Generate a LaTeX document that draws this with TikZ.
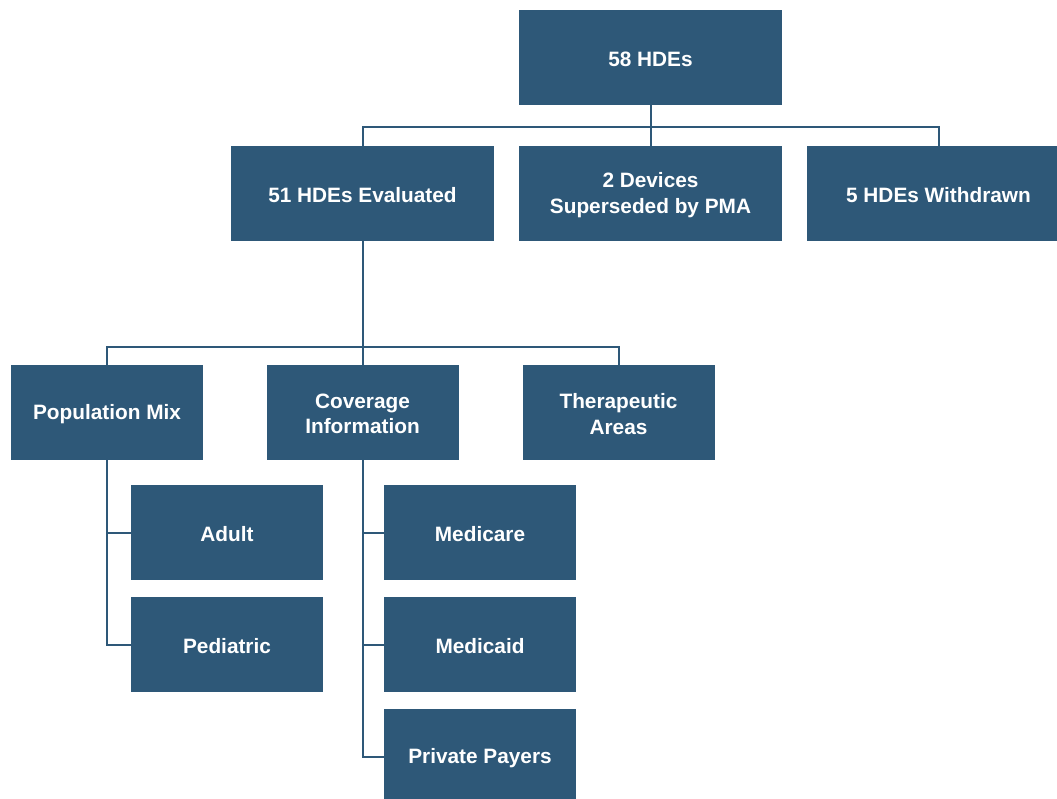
\documentclass[tikz,border=0pt]{standalone}
\usepackage{fontspec}
\setmainfont{Liberation Sans}
\definecolor{boxblue}{HTML}{2E5878}
\begin{document}
\begin{tikzpicture}[x=1pt,y=-1pt,
  box/.style={rectangle, fill=boxblue, draw=none, text=white, font=\fontsize{20.8}{25.5}\selectfont\bfseries, align=center, inner sep=0pt, minimum height=95pt},
  wbig/.style={box, minimum width=263pt},
  wsmall/.style={box, minimum width=192pt},
  lbl/.style={text=white, font=\fontsize{20.8}{25.5}\selectfont\bfseries, align=center, inner sep=0pt, yshift=-1.5pt},
  link/.style={draw=boxblue, line width=2pt}]
\useasboundingbox (0,0) rectangle (1057,799);
\node[wbig] (top) at (650.5,57.5) {};
\node[wbig] (eval) at (362.5,193.5) {};
\node[wbig] (sup) at (650.5,193.5) {};
\node[box, minimum width=250pt] (wd) at (932,193.5) {};
\node[wsmall] (pop) at (107,412.5) {};
\node[wsmall] (cov) at (362.5,412.5) {};
\node[wsmall] (ther) at (618.5,412.5) {};
\node[wsmall] (adult) at (227,532.5) {};
\node[wsmall] (ped) at (227,644.5) {};
\node[wsmall] (mcare) at (480,532.5) {};
\node[wsmall] (mcaid) at (480,644.5) {};
\node[wsmall, minimum height=90pt] (priv) at (480,754) {};
% labels
\node[lbl] at (top) {58 HDEs};
\node[lbl] at (eval) {51 HDEs Evaluated};
\node[lbl] at (sup) {2 Devices\\Superseded by PMA};
\node[lbl] at (938.5,193.5) {5 HDEs Withdrawn};
\node[lbl] at (pop) {Population Mix};
\node[lbl] at (cov) {Coverage\\Information};
\node[lbl] at (ther) {Therapeutic\\Areas};
\node[lbl] at (adult) {Adult};
\node[lbl] at (ped) {Pediatric};
\node[lbl] at (mcare) {Medicare};
\node[lbl] at (mcaid) {Medicaid};
\node[lbl] at (480,756.5) {Private Payers};
% connectors
\coordinate (bus1) at (0,127);
\coordinate (bus2) at (0,347);
\coordinate (privmid) at (0,757);
\coordinate (wdtop) at (938.5,146);
\draw[link] (top.south) -- (sup.north);
\draw[link] (eval.north) -- (eval.north |- bus1) -- (wdtop |- bus1) -- (wdtop);
\draw[link] (eval.south) -- (cov.north);
\draw[link] (pop.north) -- (pop.north |- bus2) -- (ther.north |- bus2) -- (ther.north);
\draw[link] (pop.south) -- (pop.south |- ped.west) -- (ped.west);
\draw[link] (pop.south |- adult.west) -- (adult.west);
\draw[link] (cov.south) -- (cov.south |- privmid) -- (priv.west |- privmid);
\draw[link] (cov.south |- mcare.west) -- (mcare.west);
\draw[link] (cov.south |- mcaid.west) -- (mcaid.west);
\end{tikzpicture}
\end{document}
